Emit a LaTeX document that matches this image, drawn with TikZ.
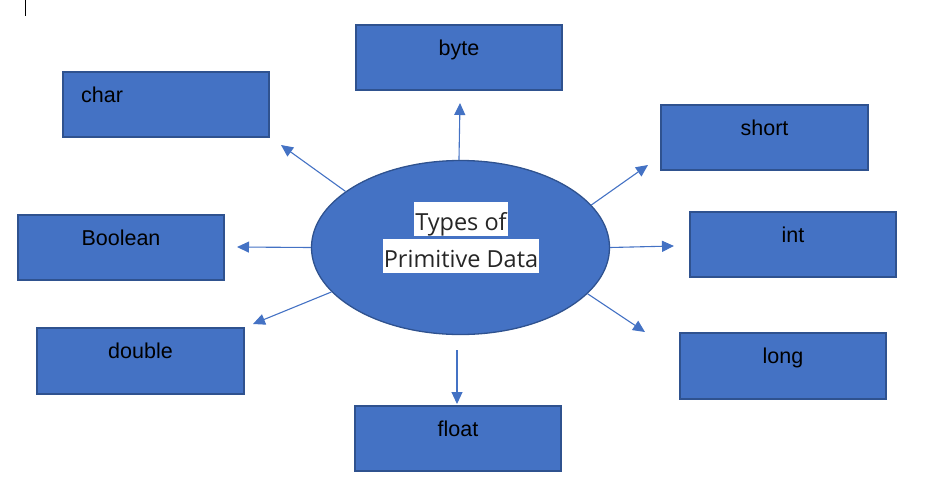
\documentclass[tikz,border=0pt]{standalone}
\usepackage{fontspec}
\setmainfont{Liberation Sans}
\newfontfamily\centerfont{Open Sans}
\usetikzlibrary{arrows.meta,shapes.geometric}
\definecolor{fillblue}{HTML}{4472C4}
\definecolor{edgeblue}{HTML}{2F528F}
\definecolor{txtgray}{HTML}{262626}
\begin{document}
\begin{tikzpicture}[x=1pt,y=-1pt,
  typebox/.style={draw=edgeblue,line width=1.6pt,fill=fillblue,
    minimum width=206.5pt,minimum height=65.5pt,inner sep=0pt},
  lbl/.style={font=\fontsize{21.5}{26}\selectfont,text=black,inner sep=0pt},
  hub/.style={ellipse,draw=edgeblue,line width=1.3pt,fill=fillblue,
    minimum width=298pt,minimum height=174pt,inner sep=0pt},
  hubtext/.style={fill=white,text=txtgray,font=\centerfont\fontsize{23.5}{28}\selectfont,
    inner xsep=1pt,inner ysep=0pt,text height=28pt,text depth=6pt},
  arr/.style={draw=fillblue,line width=1.1pt,-{Triangle[length=12pt,width=11pt]}}
]
\useasboundingbox (0,0) rectangle (939,490);

% cursor mark
\draw[line width=0.8pt] (25,0) -- (25,16);

% boxes
\node[typebox,label={[lbl,anchor=base,yshift=-31.5pt]north:byte}] (byte) at (459,57.5) {};
\node[typebox,label={[lbl,anchor=base west,xshift=19pt,yshift=-31.5pt]north west:char}] (char) at (166,104.5) {};
\node[typebox,label={[lbl,anchor=base,yshift=-31.5pt]north:short}] (short) at (764.5,137.5) {};
\node[typebox,label={[lbl,anchor=base,yshift=-31.5pt]north:Boolean}] (bool) at (121,247.5) {};
\node[typebox,label={[lbl,anchor=base,yshift=-31.5pt]north:int}] (int) at (793,244.5) {};
\node[typebox,label={[lbl,anchor=base,yshift=-31.5pt]north:double}] (double) at (140.5,361) {};
\node[typebox,label={[lbl,anchor=base,yshift=-31.5pt]north:long}] (long) at (783,366) {};
\node[typebox,label={[lbl,anchor=base,yshift=-31.5pt]north:float}] (float) at (458,438.5) {};

% hub
\node[hub] (e) at (460.5,247.5) {};
\node[hubtext] (t1) at (461,219) {Types of};
\node[hubtext] (t2) at (461,256) {Primitive Data};

% arrow tips
\coordinate (tbyte) at (460,103);
\coordinate (tchar) at (281,145);
\coordinate (tbool) at (237,247);
\coordinate (tdouble) at (253,324);
\coordinate (tfloat) at (457,404);
\coordinate (tshort) at (648,165);
\coordinate (tint) at (674,246);
\coordinate (tlong) at (645,332);

% connectors
\draw[arr] (e.91.6) -- (tbyte);
\draw[arr] (e.154.9) -- (tchar);
\draw[arr] (e.180) -- (tbool);
\draw[arr] (e.199.5) -- (tdouble);
\draw[arr,shorten <=15pt] (e.south -| tfloat) -- (tfloat);
\draw[arr] (e.18.7) -- (tshort);
\draw[arr] (e.0) -- (tint);
\draw[arr] (e.340.9) -- (tlong);
\end{tikzpicture}
\end{document}
